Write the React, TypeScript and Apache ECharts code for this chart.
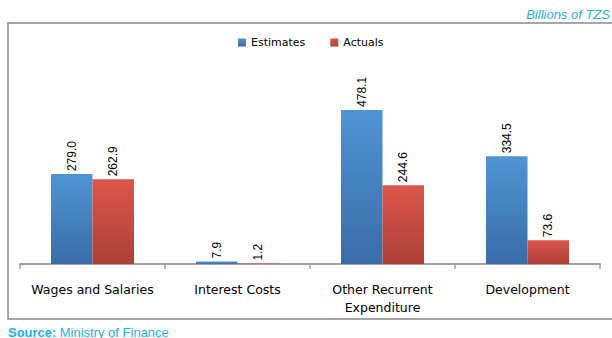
import React, { useEffect, useRef } from "react";
import * as echarts from "echarts";

const categories = ["Wages and Salaries", "Interest Costs", "Other Recurrent\nExpenditure", "Development"];
const estimates = [279.0, 7.9, 478.1, 334.5];
const actuals = [262.9, 1.2, 244.6, 73.6];
const seriesNames = ["Estimates", "Actuals"];
const unitText = "Billions of TZS";
const sourceLabel = "Source:";
const sourceText = "Ministry of Finance";

export default function App() {
  const ref = useRef<HTMLDivElement>(null);
  useEffect(() => {
    if (!ref.current) return;
    const chart = echarts.init(ref.current, undefined, { renderer: "svg" });
    const grad = (top: string, bottom: string) =>
      new echarts.graphic.LinearGradient(0, 0, 0, 1, [
        { offset: 0, color: top },
        { offset: 1, color: bottom },
      ]);
    const labelCfg = {
      show: true,
      position: "top",
      rotate: 90,
      align: "left",
      verticalAlign: "middle",
      distance: 3,
      color: "#000",
      fontFamily: "Liberation Sans",
      fontSize: 12,
      formatter: (p: any) => Number(p.value).toFixed(1),
    };
    chart.setOption({
      animation: false,
      backgroundColor: "#fff",
      graphic: [
        {
          type: "rect",
          shape: { x: 8, y: 23, width: 640, height: 296 },
          style: { fill: "none", stroke: "#8a8a8a", lineWidth: 1.5 },
          silent: true,
        },
        {
          type: "text",
          x: 610,
          y: 14,
          style: {
            text: unitText,
            fill: "#29B0E6",
            font: "italic 13px 'Liberation Sans'",
            align: "right",
            verticalAlign: "middle",
          },
        },
        {
          type: "text",
          x: 8,
          y: 332,
          style: {
            text: `{b|${sourceLabel}} {n|${sourceText}}`,
            verticalAlign: "middle",
            rich: {
              b: { fill: "#1FB0E6", fontWeight: "bold", fontSize: 13, fontFamily: "Liberation Sans" },
              n: { fill: "#1FB0E6", fontSize: 13, fontFamily: "Liberation Sans" },
            },
          },
        },
      ],
      legend: {
        data: seriesNames,
        left: 233,
        top: 32,
        itemWidth: 8,
        itemHeight: 8,
        itemGap: 25,
        icon: "rect",
        textStyle: { color: "#000", fontSize: 11, fontFamily: "DejaVu Sans" },
      },
      grid: { left: 20, right: 12, top: 70.7, bottom: 74, containLabel: false },
      xAxis: {
        type: "category",
        data: categories,
        axisLine: { show: true, lineStyle: { color: "#a0a0a0", width: 2 } },
        axisTick: { show: true, length: 5, lineStyle: { color: "#a0a0a0", width: 1.5 } },
        axisLabel: {
          color: "#000",
          fontSize: 12.5,
          fontFamily: "DejaVu Sans",
          margin: 16,
          lineHeight: 18,
          interval: 0,
        },
      },
      yAxis: {
        type: "value",
        min: 0,
        max: 600,
        show: false,
        splitLine: { show: false },
      },
      series: [
        {
          name: seriesNames[0],
          type: "bar",
          data: estimates,
          barWidth: 41.5,
          barGap: "0%",
          itemStyle: { color: grad("#4F94D4", "#3A6DA8") },
          label: labelCfg,
        },
        {
          name: seriesNames[1],
          type: "bar",
          data: actuals,
          barWidth: 41.5,
          itemStyle: { color: grad("#DB574B", "#AD4038") },
          label: labelCfg,
        },
      ],
    });
    return () => chart.dispose();
  }, []);
  return (
    <div
      ref={ref}
      style={{ position: "absolute", left: 0, top: 0, width: 612, height: 338 }}
    />
  );
}
